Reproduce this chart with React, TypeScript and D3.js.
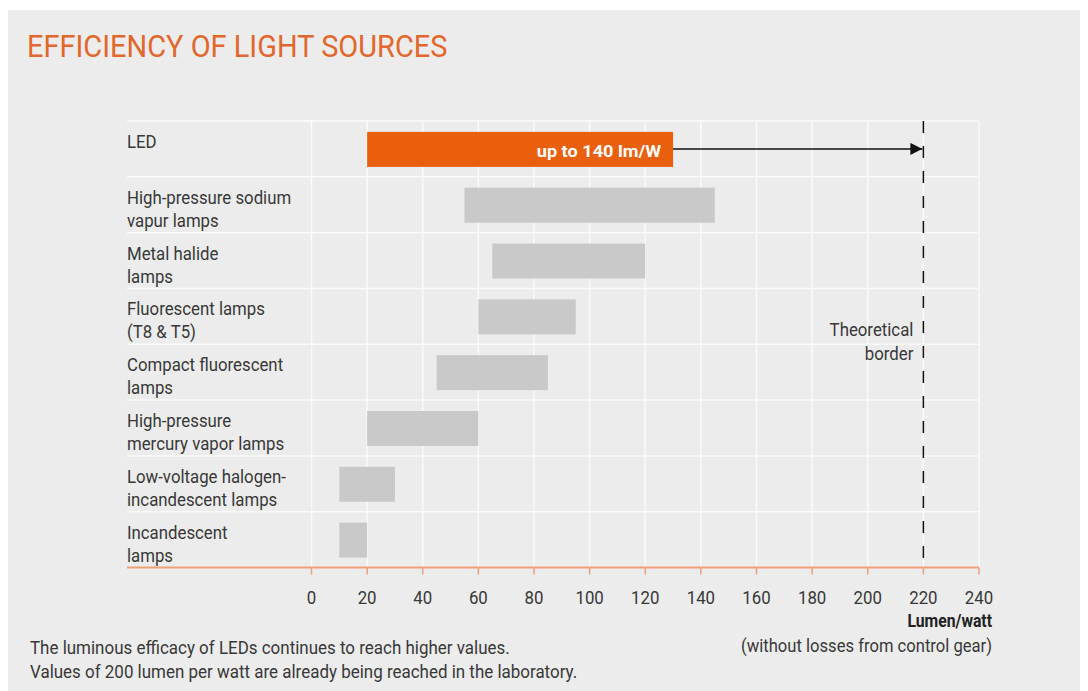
import React from "react";
import * as d3 from "d3";

// Light sources and their efficacy ranges (lumen per watt)
const categories = [
  "LED",
  "High-pressure sodium|vapur lamps",
  "Metal halide|lamps",
  "Fluorescent lamps|(T8 & T5)",
  "Compact fluorescent|lamps",
  "High-pressure|mercury vapor lamps",
  "Low-voltage halogen-|incandescent lamps",
  "Incandescent|lamps",
];
const rangeStart = [20, 55, 65, 60, 45, 20, 10, 10];
const rangeEnd = [130, 145, 120, 95, 85, 60, 30, 20];
const ledPeakLabel = "up to 140 lm/W";
const theoreticalBorder = 220;
const xTicks = [0, 20, 40, 60, 80, 100, 120, 140, 160, 180, 200, 220, 240];
const footnote = [
  "The luminous efficacy of LEDs continues to reach higher values.",
  "Values of 200 lumen per watt are already being reached in the laboratory.",
];

const W = 1080;
const H = 683;
const FONT = "Roboto, sans-serif";
const TEXT = "#383838";
const ORANGE = "#e8600e";
const SX = 0.96; // horizontal squeeze for a condensed look

type TProps = {
  x: number;
  y: number;
  lines: string[];
  size: number;
  sx?: number;
  anchor?: "start" | "middle" | "end";
  weight?: string | number;
  fill?: string;
  lineGap?: number;
};

function Label({ x, y, lines, size, sx = SX, anchor = "start", weight = "normal", fill = TEXT, lineGap = 23 }: TProps) {
  return (
    <text
      transform={`translate(${x},${y}) scale(${sx},1)`}
      fontFamily={FONT}
      fontSize={size}
      fontWeight={weight}
      fill={fill}
      textAnchor={anchor}
    >
      {lines.map((l, j) => (
        <tspan key={j} x={0} y={j * lineGap}>
          {l}
        </tspan>
      ))}
    </text>
  );
}

export default function App() {
  const x = d3.scaleLinear().domain([0, 240]).range([311.5, 979]);
  const y = d3.scaleBand<string>().domain(categories).range([121, 567.5]).paddingInner(0);
  const barH = 35;
  const gridLeft = 127;
  const axisY = 567.5;
  const ledMid = y(categories[0])! + y.bandwidth() / 2;
  const bounds = categories.map((c) => y(c)!);

  return (
    <svg width={W} height={H} style={{ display: "block" }}>
      <defs>
        <marker id="arrowHead" viewBox="0 0 10 10" refX="10" refY="5" markerWidth="12" markerHeight="12" markerUnits="userSpaceOnUse" orient="auto">
          <path d="M0,0 L10,5 L0,10 Z" fill="#111" />
        </marker>
      </defs>
      <g transform="translate(-8,-8)">
        <rect x={8} y={10} width={1080} height={681} fill="#ececec" />

        <Label x={27} y={57} lines={["EFFICIENCY OF LIGHT SOURCES"]} size={31.5} sx={0.92} fill="#e2672d" />

        {/* grid */}
        {bounds.map((b, i) => (
          <line key={"h" + i} x1={gridLeft} x2={x(240)} y1={b} y2={b} stroke="#fafafa" strokeWidth={1.5} />
        ))}
        {xTicks.map((t) => (
          <line key={"v" + t} x1={x(t)} x2={x(t)} y1={121} y2={axisY} stroke="#fafafa" strokeWidth={1.5} />
        ))}

        {/* bars */}
        {categories.map((c, i) => (
          <rect
            key={"b" + i}
            x={x(rangeStart[i])}
            y={y(c)! + (y.bandwidth() - barH) / 2 + 0.5}
            width={x(rangeEnd[i]) - x(rangeStart[i])}
            height={barH}
            fill={i === 0 ? ORANGE : "#c9c9c9"}
          />
        ))}
        <Label x={x(rangeEnd[0]) - 12} y={ledMid + 8.5} lines={[ledPeakLabel]} size={16.5} sx={1.1} weight="bold" fill="#fff" anchor="end" />

        {/* arrow to the theoretical border */}
        <line
          x1={x(rangeEnd[0])}
          x2={x(theoreticalBorder) - 1}
          y1={ledMid}
          y2={ledMid}
          stroke="#111"
          strokeWidth={1.5}
          markerEnd="url(#arrowHead)"
        />
        <line
          x1={x(theoreticalBorder)}
          x2={x(theoreticalBorder)}
          y1={121}
          y2={axisY}
          stroke="#111"
          strokeWidth={1.5}
          strokeDasharray="12,13"
        />
        <Label x={x(theoreticalBorder) - 10} y={336} lines={["Theoretical", "border"]} size={17.5} anchor="end" lineGap={24} />

        {/* category labels */}
        {categories.map((c, i) => (
          <Label key={"l" + i} x={gridLeft} y={y(c)! + 27} lines={c.split("|")} size={17.5} />
        ))}

        {/* x axis */}
        <line x1={gridLeft} x2={x(240)} y1={axisY} y2={axisY} stroke="#eea178" strokeWidth={2} />
        {xTicks.map((t) => (
          <g key={"t" + t}>
            <line x1={x(t)} x2={x(t)} y1={axisY} y2={axisY + 7} stroke="#eea178" strokeWidth={1.5} />
            <Label x={x(t)} y={604} lines={[String(t)]} size={17.5} anchor="middle" />
          </g>
        ))}
        <Label x={992} y={627} lines={["Lumen/watt"]} size={17.5} sx={0.9} weight="bold" fill="#222" anchor="end" />
        <Label x={992} y={652} lines={["(without losses from control gear)"]} size={17.5} sx={0.95} anchor="end" />

        {/* footnote */}
        <Label x={30} y={654} lines={footnote} size={17.5} lineGap={24} sx={0.97} />
      </g>
    </svg>
  );
}
